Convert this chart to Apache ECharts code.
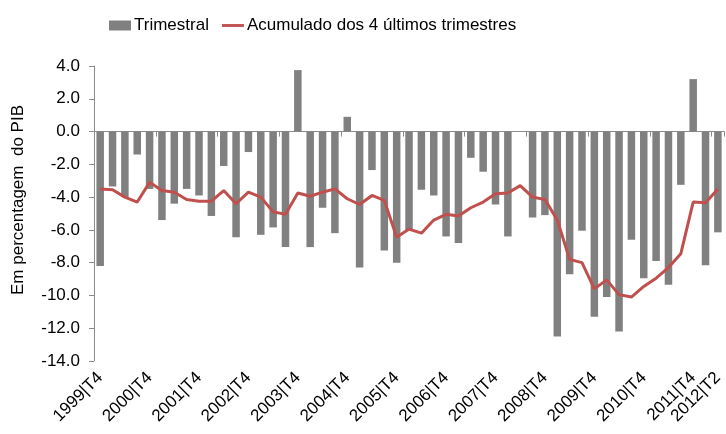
<!DOCTYPE html>
<html>
<head>
<meta charset="utf-8">
<script src="https://cdn.jsdelivr.net/npm/echarts@6/dist/echarts.min.js"></script>
<style>
  html, body { margin: 0; padding: 0; background: #fff; }
  #chart { width: 726px; height: 434px; }
</style>
</head>
<body>
<div id="chart"></div>
<script>
const categories = [
  '1999|T4',
  '2000|T1', '2000|T2', '2000|T3', '2000|T4',
  '2001|T1', '2001|T2', '2001|T3', '2001|T4',
  '2002|T1', '2002|T2', '2002|T3', '2002|T4',
  '2003|T1', '2003|T2', '2003|T3', '2003|T4',
  '2004|T1', '2004|T2', '2004|T3', '2004|T4',
  '2005|T1', '2005|T2', '2005|T3', '2005|T4',
  '2006|T1', '2006|T2', '2006|T3', '2006|T4',
  '2007|T1', '2007|T2', '2007|T3', '2007|T4',
  '2008|T1', '2008|T2', '2008|T3', '2008|T4',
  '2009|T1', '2009|T2', '2009|T3', '2009|T4',
  '2010|T1', '2010|T2', '2010|T3', '2010|T4',
  '2011|T1', '2011|T2', '2011|T3', '2011|T4',
  '2012|T1', '2012|T2'
]

// saldo trimestral (% do PIB)
const trimestral = [
  -8.2,
  -3.35, -4.0, -1.4, -3.5,
  -5.4, -4.4, -3.5, -3.9,
  -5.15, -2.1, -6.45, -1.25,
  -6.3, -5.85, -7.05, 3.75,
  -7.05, -4.65, -6.2, 0.9,
  -8.3, -2.35, -7.25, -8.0,
  -6.0, -3.55, -3.9, -6.4,
  -6.8, -1.6, -2.45, -4.45,
  -6.4, 0.0, -5.25, -5.1,
  -12.5, -8.7, -6.05, -11.3,
  -10.1, -12.2, -6.6, -8.95,
  -7.9, -9.35, -3.25, 3.2,
  -8.15, -6.15
]

// acumulado dos 4 ultimos trimestres
const acumulado = [
  -3.5,
  -3.55, -4.0, -4.3, -3.1,
  -3.6, -3.7, -4.15, -4.25,
  -4.25, -3.6, -4.4, -3.7,
  -4.0, -4.9, -5.05, -3.75,
  -3.95, -3.7, -3.5, -4.1,
  -4.45, -3.9, -4.2, -6.45,
  -5.95, -6.2, -5.4, -5.05,
  -5.15, -4.65, -4.3, -3.8,
  -3.75, -3.3, -4.0, -4.15,
  -5.4, -7.8, -8.0, -9.6,
  -9.05, -9.95, -10.1, -9.45,
  -8.95, -8.3, -7.45, -4.3,
  -4.35, -3.5
]

const yTicks = { min: -14, max: 4, interval: 2 }

const fontFamily = '"Liberation Sans", Arial, sans-serif'

const myChart = echarts.init(document.getElementById('chart'))
const option = {
  animation: false,
  textStyle: { fontFamily: fontFamily },
  legend: {
    left: 104,
    top: 12,
    itemWidth: 22,
    itemHeight: 10,
    itemGap: 13,
    textStyle: {
      fontSize: 17,
      color: '#000',
      padding: [0, 0, 0, -2]
    },
    data: [
      { name: 'Trimestral', icon: 'rect' },
      // linha simples, sem simbolo
      { name: 'Acumulado dos 4 últimos trimestres', icon: 'path://M0,0H23V3H0Z' }
    ]
  },
  grid: {
    left: 94,
    right: 0,
    top: 66,
    bottom: 73
  },
  graphic: [
    {
      type: 'text',
      x: 18,
      y: 200,
      rotation: Math.PI / 2,
      style: {
        text: 'Em percentagem  do PIB',
        fontSize: 17,
        fontFamily: fontFamily,
        fill: '#000',
        align: 'center',
        verticalAlign: 'middle'
      }
    }
  ],
  xAxis: [
    {
      type: 'category',
      data: categories,
      axisLine: { onZero: true, lineStyle: { color: '#8c8c8c', width: 1 } },
      axisTick: { show: true, length: 5, lineStyle: { color: '#8c8c8c' } },
      axisLabel: { show: false },
      splitLine: { show: false }
    },
    {
      type: 'category',
      data: categories,
      position: 'bottom',
      axisLine: { show: false },
      axisTick: { show: false },
      axisLabel: {
        rotate: 45,
        margin: 14,
        fontSize: 17,
        color: '#000',
        interval: function (i) {
          return i % 4 === 0 || i === categories.length - 1
        }
      }
    }
  ],
  yAxis: {
    type: 'value',
    min: yTicks.min,
    max: yTicks.max,
    interval: yTicks.interval,
    axisLine: { show: true, lineStyle: { color: '#8c8c8c' } },
    axisTick: { show: true, length: 5, lineStyle: { color: '#8c8c8c' } },
    axisLabel: {
      fontSize: 17,
      color: '#000',
      margin: 14,
      formatter: function (v) { return v.toFixed(1) }
    },
    splitLine: { show: false }
  },
  series: [
    {
      name: 'Trimestral',
      type: 'bar',
      xAxisIndex: 0,
      data: trimestral,
      barWidth: 7.5,
      itemStyle: { color: '#808080' }
    },
    {
      name: 'Acumulado dos 4 últimos trimestres',
      type: 'line',
      xAxisIndex: 0,
      data: acumulado,
      showSymbol: false,
      symbol: 'none',
      z: 5,
      itemStyle: { color: '#c0504d' },
      lineStyle: { width: 3, color: '#c0504d' }
    }
  ]
}
option && myChart.setOption(option)
</script>
</body>
</html>
